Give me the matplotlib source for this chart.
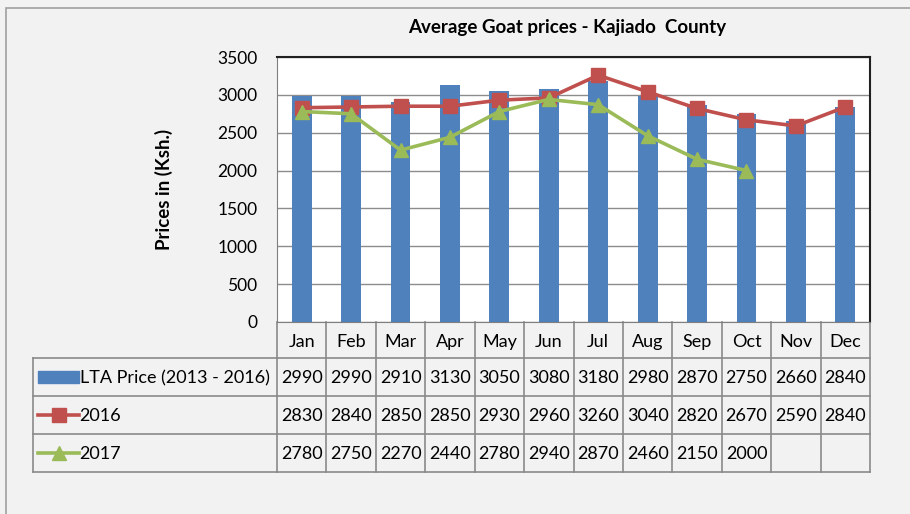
import numpy as np
import matplotlib.pyplot as plt
import matplotlib.transforms as mtransforms
from matplotlib.patches import Rectangle
from matplotlib.lines import Line2D

plt.rcParams['font.family'] = ['Lato', 'DejaVu Sans']

months = ['Jan', 'Feb', 'Mar', 'Apr', 'May', 'Jun', 'Jul', 'Aug', 'Sep', 'Oct', 'Nov', 'Dec']
lta = [2990, 2990, 2910, 3130, 3050, 3080, 3180, 2980, 2870, 2750, 2660, 2840]
y2016 = [2830, 2840, 2850, 2850, 2930, 2960, 3260, 3040, 2820, 2670, 2590, 2840]
y2017 = [2780, 2750, 2270, 2440, 2780, 2940, 2870, 2460, 2150, 2000]
row_labels = ['LTA Price (2013 - 2016)', '2016', '2017']

blue = '#4f81bd'
red = '#c0504d'
green = '#9bbb59'
bg = '#f2f2f2'

W, H = 910, 514
fig = plt.figure(figsize=(W / 100, H / 100), dpi=100)
fig.patch.set_facecolor(bg)

# outer chart frame
fig.patches.append(Rectangle((6 / W, 1 - 520 / H), 910 / W, 512 / H, transform=fig.transFigure,
                             fill=False, ec='#a0a0a0', lw=1.2))

ax = fig.add_axes([277 / W, 1 - 322 / H, 593 / W, 265 / H])
ax.set_facecolor('white')
x = np.arange(len(months))
ax.bar(x, lta, width=0.4, color=blue, zorder=2)
ax.plot(x, y2016, color=red, lw=2.6, marker='s', ms=10.5, zorder=3)
ax.plot(x[:len(y2017)], y2017, color=green, lw=2.6, marker='^', ms=10.5, zorder=4)
ax.set_xlim(-0.5, len(months) - 0.5)
ax.set_ylim(0, 3500)
ax.set_yticks(np.arange(0, 3501, 500))
ax.set_xticks([])
ax.tick_params(axis='y', length=0, labelsize=12.5, pad=14)
ax.grid(axis='y', color='#8c8c8c', lw=1, zorder=0)
for s in ax.spines.values():
    s.set_color('#7f7f7f')
for s in ['top', 'right']:
    ax.spines[s].set_color('#202020')
    ax.spines[s].set_linewidth(1.5)
ax.set_ylabel('Prices in (Ksh.)', fontsize=13.5, fontweight='bold', labelpad=32)
fig.text(567 / W, 1 - 28 / H, 'Average Goat prices - Kajiado  County', ha='center', va='center',
         fontsize=13.5, fontweight='bold')

# data table below the plot
tr = mtransforms.blended_transform_factory(ax.transData, ax.transAxes)
ph = 265.0
def yax(py):
    return (322 - py) / ph

gc = '#8a8a8a'
top_h, r1, r2, r3, bot = 322, 358, 396, 434, 472
# header row grid
for i in range(len(months) + 1):
    ax.add_line(Line2D([i - 0.5, i - 0.5], [yax(top_h), yax(bot)], transform=tr, color=gc, lw=1.2, clip_on=False))
for py in [r1, r2, r3, bot]:
    ax.add_line(Line2D([0, 1], [yax(py), yax(py)], transform=ax.transAxes, color=gc, lw=1.2, clip_on=False))
# row-label column
left = (33 - 277) / 593.0
for py in [r1, r2, r3, bot]:
    ax.add_line(Line2D([left, 0], [yax(py), yax(py)], transform=ax.transAxes, color=gc, lw=1.2, clip_on=False))
ax.add_line(Line2D([left, left], [yax(r1), yax(bot)], transform=ax.transAxes, color=gc, lw=1.2, clip_on=False))

for i, m in enumerate(months):
    ax.text(i, yax((top_h + r1) / 2 + 2), m, transform=tr, ha='center', va='center', fontsize=13)
for row, vals in enumerate([lta, y2016, y2017]):
    yc = yax(([r1, r2, r3][row] + [r2, r3, bot][row]) / 2 + 1)
    for i, v in enumerate(vals):
        ax.text(i, yc, str(v), transform=tr, ha='center', va='center', fontsize=13)

# legend keys in row labels
kx0 = (38 - 277) / 593.0
kx1 = (79 - 277) / 593.0
yc = yax((r1 + r2) / 2)
ax.add_patch(Rectangle((kx0, yc - 6 / ph), kx1 - kx0, 12 / ph, transform=ax.transAxes, color=blue, clip_on=False))
yc = yax((r2 + r3) / 2)
ax.add_line(Line2D([kx0, kx1], [yc, yc], transform=ax.transAxes, color=red, lw=2.6, clip_on=False))
ax.add_line(Line2D([(kx0 + kx1) / 2], [yc], transform=ax.transAxes, color=red, marker='s', ms=10.5, clip_on=False))
yc = yax((r3 + bot) / 2)
ax.add_line(Line2D([kx0, kx1], [yc, yc], transform=ax.transAxes, color=green, lw=2.6, clip_on=False))
ax.add_line(Line2D([(kx0 + kx1) / 2], [yc], transform=ax.transAxes, color=green, marker='^', ms=10.5, clip_on=False))
for row, lab in enumerate(row_labels):
    yc = yax(([r1, r2, r3][row] + [r2, r3, bot][row]) / 2 + 1)
    ax.text(kx1 + 0.001, yc, lab, transform=ax.transAxes, ha='left', va='center', fontsize=13)

fig.savefig('out.png', dpi=100, facecolor=bg)
